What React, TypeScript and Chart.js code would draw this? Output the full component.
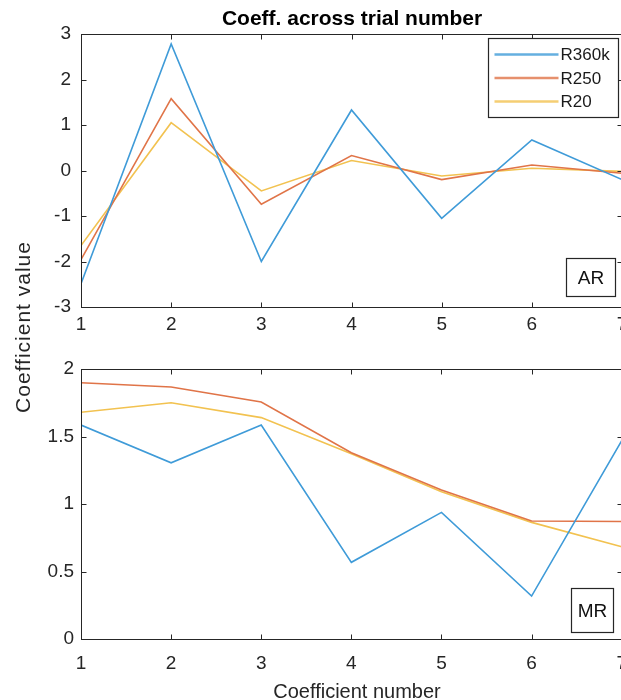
import { useEffect, useRef } from "react";
import { Chart, registerables } from "chart.js";

Chart.register(...registerables);

// Coefficient index on the x axis
const coeffNumbers = [1, 2, 3, 4, 5, 6, 7];
const seriesNames = ["R360k", "R250", "R20"];
const seriesColors = ["#3f9bd8", "#e07448", "#f2c250"];

// AR coefficients per trial count
const arR360k = [-2.49, 2.78, -2.0, 1.33, -1.05, 0.67, -0.2];
const arR250 = [-1.96, 1.58, -0.74, 0.33, -0.2, 0.12, -0.06];
const arR20 = [-1.65, 1.05, -0.45, 0.22, -0.12, 0.05, -0.02];

// MR coefficients per trial count
const mrR360k = [1.585, 1.305, 1.585, 0.568, 0.938, 0.318, 1.47];
const mrR250 = [1.898, 1.867, 1.756, 1.38, 1.104, 0.874, 0.87];
const mrR20 = [1.68, 1.75, 1.64, 1.373, 1.09, 0.864, 0.684];

const titleText = "Coeff. across trial number";
const xLabelText = "Coefficient number";
const yLabelText = "Coefficient value";

const FONT = '"Liberation Sans", Arial, sans-serif';
const INK = "#262626";

function buildDatasets(series: number[][]) {
  return series.map((vals, i) => ({
    label: seriesNames[i],
    data: coeffNumbers.map((x, j) => ({ x, y: vals[j] })),
    borderColor: seriesColors[i],
    backgroundColor: seriesColors[i],
    borderWidth: 1.6,
    pointRadius: 0,
    tension: 0,
    fill: false,
  }));
}

// Box around the axes with MATLAB-style inward tick marks on all four sides
const framePlugin = {
  id: "frame",
  afterDraw(chart: any) {
    const { ctx, chartArea: a, scales } = chart;
    const L = Math.round(a.left) + 0.5;
    const R = Math.round(a.right) + 0.5;
    const T = Math.round(a.top) + 0.5;
    const B = Math.round(a.bottom) + 0.5;
    ctx.save();
    ctx.strokeStyle = INK;
    ctx.lineWidth = 1;
    ctx.strokeRect(L, T, R - L, B - T);
    ctx.beginPath();
    scales.x.ticks.forEach((t: any) => {
      const px = Math.round(scales.x.getPixelForValue(t.value)) + 0.5;
      ctx.moveTo(px, B);
      ctx.lineTo(px, B - 5);
      ctx.moveTo(px, T);
      ctx.lineTo(px, T + 5);
    });
    scales.y.ticks.forEach((t: any) => {
      const py = Math.round(scales.y.getPixelForValue(t.value)) + 0.5;
      ctx.moveTo(L, py);
      ctx.lineTo(L + 5, py);
      ctx.moveTo(R, py);
      ctx.lineTo(R - 5, py);
    });
    ctx.stroke();
    ctx.restore();
  },
};

function labelBoxPlugin(text: string, rightInset: number, bottomInset: number, w: number, h: number) {
  return {
    id: "labelBox",
    afterDraw(chart: any) {
      const { ctx, chartArea: a } = chart;
      const x1 = Math.round(a.right - rightInset) + 0.5;
      const y1 = Math.round(a.bottom - bottomInset) + 0.5;
      const x0 = x1 - w;
      const y0 = y1 - h;
      ctx.save();
      ctx.fillStyle = "#ffffff";
      ctx.fillRect(x0, y0, w, h);
      ctx.strokeStyle = INK;
      ctx.lineWidth = 1.2;
      ctx.strokeRect(x0, y0, w, h);
      ctx.fillStyle = "#111111";
      ctx.font = `19px ${FONT}`;
      ctx.textAlign = "center";
      ctx.textBaseline = "middle";
      ctx.fillText(text, x0 + w / 2, y0 + h / 2 + 1);
      ctx.restore();
    },
  };
}

const legendPlugin = {
  id: "insideLegend",
  afterDraw(chart: any) {
    const { ctx, chartArea: a } = chart;
    const w = 130;
    const h = 79;
    const x1 = Math.round(a.right - 4) + 0.5;
    const y0 = Math.round(a.top + 4) + 0.5;
    const x0 = x1 - w;
    ctx.save();
    ctx.fillStyle = "#ffffff";
    ctx.fillRect(x0, y0, w, h);
    ctx.strokeStyle = INK;
    ctx.lineWidth = 1.2;
    ctx.strokeRect(x0, y0, w, h);
    ctx.font = `17px ${FONT}`;
    ctx.textAlign = "left";
    ctx.textBaseline = "middle";
    chart.data.datasets.forEach((ds: any, i: number) => {
      const cy = y0 + 16 + i * 23.5;
      ctx.strokeStyle = ds.borderColor;
      ctx.globalAlpha = 0.8;
      ctx.lineWidth = 2.4;
      ctx.beginPath();
      ctx.moveTo(x0 + 6, cy);
      ctx.lineTo(x0 + 70, cy);
      ctx.stroke();
      ctx.globalAlpha = 1;
      ctx.fillStyle = "#1a1a1a";
      ctx.fillText(ds.label, x0 + 72, cy + 1);
    });
    ctx.restore();
  },
};

function textPlugin(id: string, text: string, x: number, y: number, font: string, color: string) {
  return {
    id,
    afterDraw(chart: any) {
      const { ctx } = chart;
      ctx.save();
      ctx.font = font;
      ctx.fillStyle = color;
      ctx.textAlign = "center";
      ctx.textBaseline = "alphabetic";
      ctx.fillText(text, x, y);
      ctx.restore();
    },
  };
}

function axisOptions(
  yMin: number,
  yMax: number,
  yStep: number,
  xTickPad: number,
  yTickPad: number,
  xAxisHeight: number
) {
  const tickFont = { family: FONT, size: 19 };
  return {
    x: {
      type: "linear" as const,
      min: 1,
      max: 7,
      grid: { display: false, drawTicks: false },
      border: { display: false },
      ticks: { stepSize: 1, color: INK, font: tickFont, padding: xTickPad, maxRotation: 0 },
      afterFit: (s: any) => {
        s.height = xAxisHeight;
      },
    },
    y: {
      type: "linear" as const,
      min: yMin,
      max: yMax,
      grid: { display: false, drawTicks: false },
      border: { display: false },
      ticks: {
        stepSize: yStep,
        color: INK,
        font: tickFont,
        padding: yTickPad,
        callback: (v: any) => String(Math.round(Number(v) * 100) / 100),
      },
      afterFit: (s: any) => {
        s.width = 81;
      },
    },
  };
}

function useLineChart(
  ref: React.RefObject<HTMLCanvasElement | null>,
  series: number[][],
  scales: any,
  padding: any,
  plugins: any[]
) {
  useEffect(() => {
    if (!ref.current) return;
    const chart = new Chart(ref.current, {
      type: "line",
      data: { datasets: buildDatasets(series) as any },
      options: {
        responsive: false,
        animation: false,
        devicePixelRatio: 1,
        layout: { padding },
        scales,
        plugins: { legend: { display: false }, tooltip: { enabled: false }, title: { display: false } },
      },
      plugins,
    });
    return () => chart.destroy();
  }, []);
}

export default function App() {
  const topRef = useRef<HTMLCanvasElement>(null);
  const bottomRef = useRef<HTMLCanvasElement>(null);

  useLineChart(
    topRef,
    [arR360k, arR250, arR20],
    axisOptions(-3, 3, 1, 6, 10, 33),
    { top: 34, right: 18, left: 0, bottom: 0 },
    [
      framePlugin,
      legendPlugin,
      labelBoxPlugin("AR", 7, 11, 49, 38),
      textPlugin("title", titleText, 352, 25, `bold 21px ${FONT}`, "#000000"),
    ]
  );

  useLineChart(
    bottomRef,
    [mrR360k, mrR250, mrR20],
    axisOptions(0, 2, 0.5, 13, 7, 61),
    { top: 29, right: 18, left: 0, bottom: 0 },
    [
      framePlugin,
      labelBoxPlugin("MR", 9, 7, 42, 44),
      textPlugin("xlabel", xLabelText, 357, 358, `20px ${FONT}`, INK),
    ]
  );

  return (
    <div
      style={{
        position: "fixed",
        left: 0,
        top: 0,
        width: 621,
        height: 700,
        overflow: "hidden",
        background: "#ffffff",
      }}
    >
      <canvas
        ref={topRef}
        width={640}
        height={340}
        style={{ position: "absolute", left: 0, top: 0, width: 640, height: 340 }}
      />
      <canvas
        ref={bottomRef}
        width={640}
        height={360}
        style={{ position: "absolute", left: 0, top: 340, width: 640, height: 360 }}
      />
      <div
        style={{
          position: "absolute",
          left: 33,
          top: 327,
          transform: "rotate(-90deg)",
          transformOrigin: "0 0",
          whiteSpace: "nowrap",
          font: `21px ${FONT}`,
          letterSpacing: "1px",
          color: INK,
          lineHeight: "1",
        }}
      >
        <span style={{ position: "absolute", left: 0, bottom: 0, transform: "translateX(-50%)" }}>
          {yLabelText}
        </span>
      </div>
    </div>
  );
}
